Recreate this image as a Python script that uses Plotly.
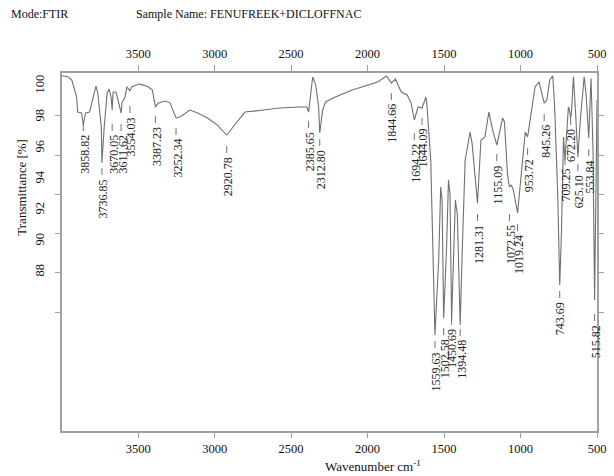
import plotly.graph_objects as go

# ---- data ----
wavenumber = [3998, 3960, 3934, 3915, 3902, 3896, 3870, 3858.82, 3844, 3818, 3794, 3776, 3764, 3741,
              3736.85, 3722, 3703, 3690, 3677, 3670.05, 3664, 3645, 3632, 3611.62, 3606, 3586, 3574,
              3554.03, 3542, 3497, 3465, 3433, 3407, 3387.23, 3368, 3323, 3291, 3252.34, 3227, 3162,
              3111, 3047, 2982, 2920.78, 2854, 2802, 2680, 2577, 2449, 2397, 2385.65, 2359, 2339, 2320,
              2312.80, 2294, 2275, 2211, 2101, 1998, 1934, 1876, 1844.66, 1818, 1780, 1741, 1715,
              1694.22, 1670, 1644.09, 1619, 1613, 1587, 1559.63, 1535, 1522, 1513, 1502.58, 1484,
              1471, 1461, 1450.69, 1439, 1426, 1413, 1394.48, 1381, 1362, 1330, 1317, 1281.31, 1259,
              1233, 1207, 1182, 1155.09, 1117, 1105, 1085, 1072.55, 1060, 1047, 1019.24, 989, 969,
              953.72, 944, 905, 879, 860, 845.26, 828, 809, 789, 777, 757, 743.69, 732, 719, 709.25,
              699, 687, 680, 672.20, 667, 654, 641, 625.10, 609, 584, 571, 553.84, 545, 539, 526,
              515.82, 506, 500]
transmittance = [100.66, 100.60, 100.39, 99.74, 99.29, 98.32, 98.26, 97.48, 98.26, 98.32, 99.29, 100.0,
                 99.55, 97.36, 95.03, 97.36, 99.55, 99.81, 99.29, 98.45, 99.61, 99.61, 99.10, 98.26,
                 98.90, 99.29, 99.94, 99.70, 99.94, 100.13, 100.06, 99.94, 99.74, 98.65, 98.90, 99.03,
                 98.90, 97.94, 98.00, 98.45, 98.26, 97.94, 97.48, 96.84, 97.68, 98.32, 98.45, 98.58,
                 98.65, 98.65, 98.32, 100.58, 100.06, 98.65, 96.97, 98.45, 98.97, 99.29, 99.74, 100.06,
                 100.26, 100.65, 100.19, 100.45, 99.61, 99.42, 98.90, 97.81, 98.65, 98.58, 99.29, 98.90,
                 95.23, 83.94, 88.78, 93.49, 92.65, 85.04, 89.42, 93.94, 92.97, 84.91, 89.42, 92.65,
                 91.68, 84.58, 89.42, 95.23, 97.03, 96.32, 92.45, 96.52, 96.71, 98.32, 97.16, 96.19,
                 97.94, 97.68, 94.26, 93.49, 93.61, 93.29, 91.81, 95.23, 97.03, 96.71, 97.36, 99.94,
                 100.26, 99.42, 98.90, 99.10, 100.39, 100.65, 98.65, 93.10, 87.16, 90.71, 96.71, 95.23,
                 96.52, 98.65, 98.45, 97.94, 98.32, 100.60, 98.45, 95.42, 97.81, 100.60, 99.42, 96.65,
                 99.10, 100.50, 95.87, 86.20, 93.90, 99.10]

peak_wavenumbers = [3858.82, 3736.85, 3670.05, 3611.62, 3554.03, 3387.23, 3252.34, 2920.78, 2385.65,
                    2312.80, 1844.66, 1694.22, 1644.09, 1559.63, 1502.58, 1450.69, 1394.48, 1281.31,
                    1155.09, 1072.55, 1019.24, 953.72, 845.26, 743.69, 709.25, 672.20, 625.10, 553.84,
                    515.82]
peak_label_text = ["3858.82", "3736.85", "3670.05", "3611.62", "3554.03", "3387.23", "3252.34",
                   "2920.78", "2385.65", "2312.80", "1844.66", "1694.22", "1644.09", "1559.63",
                   "1502.58", "1450.69", "1394.48", "1281.31", "1155.09", "1072.55", "1019.24",
                   "953.72", "845.26", "743.69", "709.25", "672.20", "625.10", "553.84", "515.82"]

x_tick_vals = [3500, 3000, 2500, 2000, 1500, 1000, 500]
x_tick_text = ["3500", "3000", "2500", "2000", "1500", "1000", "500"]
y_tick_vals = [100, 98, 96, 94, 92, 90, 88]
y_tick_text = ["100", "98", "96", "94", "92", "90", "88"]

# ---- layout positions (not data) ----
label_top = [96.97, 94.13, 96.97, 96.97, 98.13, 97.48, 96.71, 95.55, 97.16, 96.0, 98.97, 96.39,
             97.36, 82.97, 83.81, 84.46, 83.74, 91.16, 95.03, 91.16, 90.52, 95.42, 97.61, 86.2,
             94.78, 97.36, 94.39, 95.35, 84.71]
y_mark_positions = [98.08, 95.55, 93.03, 90.52, 87.96, 85.39]
X_RANGE = [3998, 500]
Y_RANGE = [77.75, 100.84]

W, H = 614, 476
ML, MR, MT, MB = 62, 8, 73, 45
PW, PH = W - ML - MR, H - MT - MB

SERIF = "Liberation Serif, Times New Roman, serif"
LINE_GRAY = "#707070"
AXIS_GRAY = "#a0a0a0"


def px_x(x):
    return (x - ML) / PW


def px_y(y):
    return (H - MB - y) / PH


fig = go.Figure()
fig.add_trace(go.Scatter(x=wavenumber, y=transmittance, mode="lines",
                         line=dict(color=LINE_GRAY, width=1.1), showlegend=False,
                         hoverinfo="skip"))
# trace that activates the top axis (no visible mark)
fig.add_trace(go.Scatter(x=[X_RANGE[0]], y=[Y_RANGE[0]], xaxis="x2", mode="lines",
                         line=dict(width=0), showlegend=False, hoverinfo="skip"))

annotations = []
shapes = []
dy_gap = 0.13
dy_len = 0.45
for w, txt, top in zip(peak_wavenumbers, peak_label_text, label_top):
    annotations.append(dict(x=w, y=top, xref="x", yref="y", text=txt, showarrow=False,
                            textangle=-90, xanchor="center", yanchor="top", xshift=1,
                            font=dict(family=SERIF, size=12, color="#222")))
    shapes.append(dict(type="line", xref="x", yref="y", x0=w, x1=w,
                       y0=top + dy_gap, y1=top + dy_gap + dy_len,
                       line=dict(color=LINE_GRAY, width=1)))

annotations += [
    dict(xref="paper", yref="paper", x=px_x(8), y=px_y(14),
         text="Mode:FTIR", showarrow=False, xanchor="left", yanchor="middle",
         font=dict(family=SERIF, size=12, color="#111")),
    dict(xref="paper", yref="paper", x=px_x(135), y=px_y(14),
         text="Sample Name: FENUFREEK+DICLOFFNAC", showarrow=False, xanchor="left",
         yanchor="middle", font=dict(family=SERIF, size=12, color="#111")),
    dict(xref="paper", yref="paper", x=px_x(378), y=px_y(466),
         text="Wavenumber cm<sup>-1</sup>", showarrow=False, xanchor="center",
         yanchor="middle", font=dict(family=SERIF, size=13, color="#111")),
    dict(xref="paper", yref="paper", x=px_x(20), y=px_y(187),
         text="Transmittance [%]", showarrow=False, textangle=-90, xanchor="center",
         yanchor="middle", font=dict(family=SERIF, size=13, color="#111")),
]

fig.update_layout(
    width=W, height=H,
    margin=dict(l=ML, r=MR, t=MT, b=MB),
    paper_bgcolor="white", plot_bgcolor="white",
    showlegend=False,
    font=dict(family=SERIF, size=12, color="#111"),
    xaxis=dict(range=X_RANGE, tickmode="array", tickvals=x_tick_vals, ticktext=x_tick_text,
               ticks="outside", ticklen=5, tickcolor=AXIS_GRAY, tickwidth=1.2,
               showline=True, linecolor=AXIS_GRAY, linewidth=1.6, mirror=True,
               showgrid=False, zeroline=False,
               tickfont=dict(family=SERIF, size=12.5, color="#111")),
    xaxis2=dict(range=X_RANGE, overlaying="x", side="top", tickmode="array",
                tickvals=x_tick_vals, ticktext=x_tick_text, ticks="outside", ticklen=7,
                ticklabelstandoff=2,
                tickcolor=AXIS_GRAY, tickwidth=1.2, showline=False, showgrid=False,
                zeroline=False, tickfont=dict(family=SERIF, size=12.5, color="#111")),
    yaxis=dict(range=Y_RANGE, tickmode="array", tickvals=y_tick_vals, ticktext=y_tick_text,
               tickangle=-90, ticks="outside", ticklen=5, tickcolor="rgba(0,0,0,0)",
               ticklabelstandoff=6,
               minor=dict(tickmode="array", tickvals=y_mark_positions, ticks="outside",
                          ticklen=5, tickcolor=AXIS_GRAY, tickwidth=1.2, showgrid=False),
               showline=True, linecolor=AXIS_GRAY, linewidth=1.6, mirror="ticks",
               showgrid=False, zeroline=False,
               tickfont=dict(family=SERIF, size=12.5, color="#111")),
    annotations=annotations,
    shapes=shapes,
)

fig.write_html("out.html", config={"displayModeBar": False},
               post_script="document.body.style.margin='0';document.body.style.overflow='hidden';")
